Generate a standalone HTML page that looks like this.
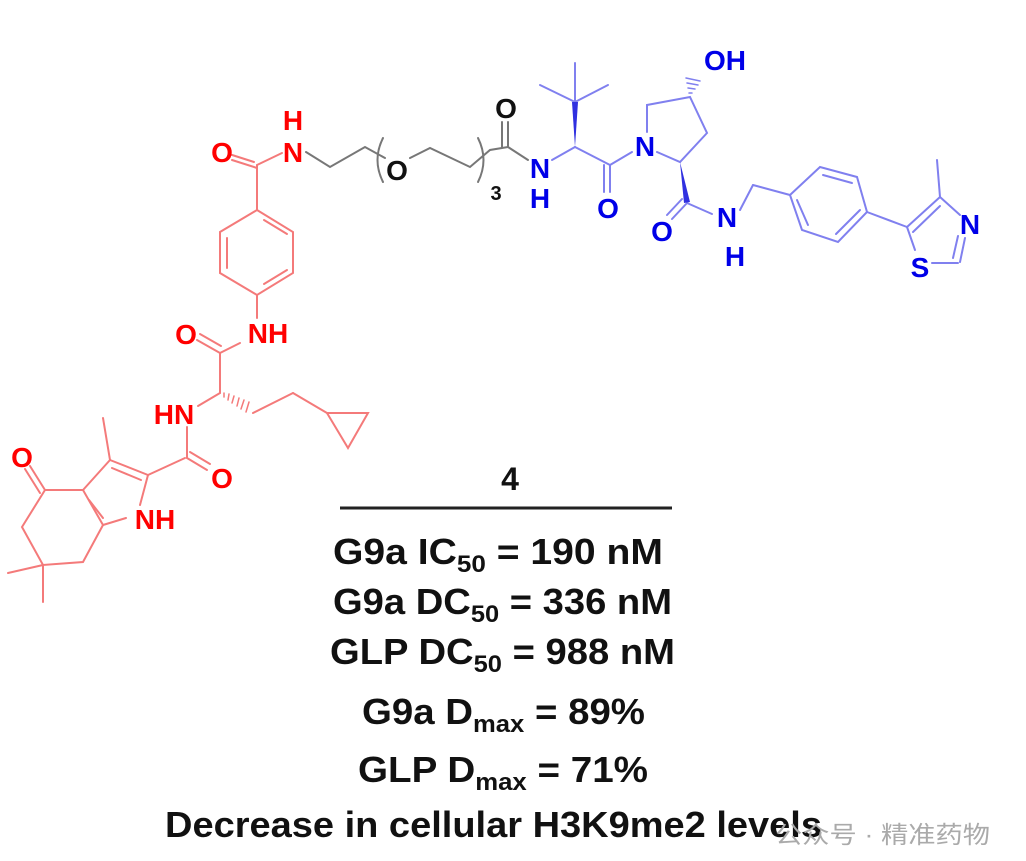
<!DOCTYPE html>
<html><head><meta charset="utf-8"><style>
html,body{margin:0;padding:0;background:#fff;}
svg{display:block;}
text{font-family:"Liberation Sans",Arial,sans-serif;font-weight:bold;}
</style></head><body>
<svg width="1026" height="861" viewBox="0 0 1026 861" xmlns="http://www.w3.org/2000/svg">
<g stroke-width="2" fill="none" stroke-linecap="round">
<g stroke="#f47a7a">
<line x1="232" y1="160" x2="257" y2="168"/><line x1="229" y1="154" x2="254" y2="162"/>
<line x1="257" y1="165" x2="282" y2="153"/>
<line x1="257" y1="165" x2="257" y2="210"/>
<polygon points="257,210 293,232 293,273 257,295 220,273 220,232"/>
<line x1="264" y1="220" x2="287" y2="234"/><line x1="287" y1="270" x2="264" y2="284"/><line x1="227" y1="238" x2="227" y2="268"/>
<line x1="257" y1="295" x2="257" y2="318"/>
<line x1="240" y1="343" x2="220" y2="353"/>
<line x1="197" y1="340" x2="220" y2="353"/><line x1="200" y1="334" x2="221" y2="346"/>
<line x1="220" y1="353" x2="220" y2="393"/>
<line x1="220" y1="393" x2="198" y2="406"/>
<line x1="253" y1="413" x2="293" y2="393"/><line x1="293" y1="393" x2="327" y2="413"/>
<polygon points="327,413 368,413 348,448"/>
<line x1="187" y1="427" x2="187" y2="458"/>
<line x1="187" y1="458" x2="207" y2="470"/><line x1="190" y1="452" x2="210" y2="464"/>
<line x1="185" y1="458" x2="148" y2="475"/>
<line x1="148" y1="475" x2="110" y2="460"/><line x1="141" y1="480" x2="112" y2="468"/>
<line x1="110" y1="460" x2="103" y2="418"/>
<line x1="110" y1="460" x2="83" y2="490"/>
<line x1="148" y1="475" x2="140" y2="505"/>
<line x1="126" y1="518" x2="103" y2="525"/>
<line x1="83" y1="490" x2="103" y2="525"/><line x1="89" y1="500" x2="103" y2="518"/>
<polyline points="83,490 45,490 22,527 43,565 83,562 103,525"/>
<line x1="45" y1="490" x2="30" y2="466"/><line x1="40" y1="493" x2="25" y2="469"/>
<line x1="43" y1="565" x2="8" y2="573"/><line x1="43" y1="565" x2="43" y2="602"/>
</g>
<g stroke="#f47a7a" stroke-width="1.5">
<line x1="224" y1="393" x2="224" y2="397"/><line x1="229" y1="394" x2="228" y2="400"/><line x1="234" y1="396" x2="232" y2="403"/><line x1="239" y1="398" x2="237" y2="406"/><line x1="244" y1="400" x2="241" y2="409"/><line x1="249" y1="402" x2="246" y2="412"/>
</g>
<g stroke="#777">
<polyline points="306,152 330,167 365,147 385,158"/>
<polyline points="410,158 430,148 470,167 490,150 508,147"/>
<path d="M383,138 Q372,160 383,182"/>
<path d="M478,138 Q489,160 478,182"/>
<line x1="508" y1="147" x2="508" y2="122"/><line x1="502" y1="147" x2="502" y2="122"/>
<line x1="508" y1="147" x2="528" y2="160"/>
</g>
<g stroke="#8080ef">
<line x1="552" y1="160" x2="575" y2="147"/>
<line x1="575" y1="102" x2="540" y2="85"/><line x1="575" y1="102" x2="575" y2="63"/><line x1="575" y1="102" x2="608" y2="85"/>
<line x1="575" y1="147" x2="610" y2="165"/>
<line x1="610" y1="165" x2="610" y2="192"/><line x1="604" y1="165" x2="604" y2="192"/>
<line x1="610" y1="165" x2="632" y2="152"/>
<polyline points="647,132 647,105 690,97 707,133 680,162 657,152"/>
<line x1="687" y1="203" x2="672" y2="219"/><line x1="682" y1="199" x2="667" y2="215"/>
<line x1="687" y1="203" x2="712" y2="214"/>
<line x1="740" y1="210" x2="753" y2="185"/><line x1="753" y1="185" x2="790" y2="195"/>
<polygon points="790,195 820,167 857,177 867,212 838,242 802,230"/>
<line x1="823" y1="175" x2="852" y2="183"/><line x1="860" y1="210" x2="836" y2="234"/><line x1="797" y1="200" x2="808" y2="225"/>
<line x1="867" y1="212" x2="907" y2="227"/>
<line x1="907" y1="227" x2="940" y2="197"/><line x1="913" y1="232" x2="940" y2="206"/>
<line x1="940" y1="197" x2="937" y2="160"/>
<line x1="940" y1="197" x2="960" y2="215"/>
<line x1="965" y1="238" x2="960" y2="262"/><line x1="958" y1="236" x2="953" y2="258"/>
<line x1="958" y1="263" x2="932" y2="263"/>
<line x1="907" y1="227" x2="915" y2="250"/>
</g>
<g stroke="#8080ef" stroke-width="1.5">
<line x1="689" y1="93" x2="692" y2="93"/><line x1="688" y1="88" x2="695" y2="89"/><line x1="687" y1="83" x2="698" y2="85"/><line x1="686" y1="78" x2="700" y2="81"/>
</g>
<polygon points="575,147 572,102 578,102" fill="#3030e0" stroke="none"/>
<polygon points="680,162 684,203 690,202" fill="#3030e0" stroke="none"/>
</g>
<g fill="#f00" font-size="28" text-anchor="middle">
<text x="222" y="162">O</text>
<text x="293" y="162">N</text><text x="293" y="130">H</text>
<text x="268" y="343">NH</text>
<text x="186" y="344">O</text>
<text x="174" y="424">HN</text>
<text x="222" y="488">O</text>
<text x="22" y="467">O</text>
<text x="155" y="529">NH</text>
</g>
<g fill="#111" font-size="28" text-anchor="middle">
<text x="397" y="180">O</text>
<text x="506" y="118">O</text>
</g>
<text x="496" y="200" fill="#111" font-size="20" text-anchor="middle">3</text>
<g fill="#0000e8" font-size="28" text-anchor="middle">
<text x="540" y="178">N</text><text x="540" y="208">H</text>
<text x="608" y="218">O</text>
<text x="645" y="156">N</text>
<text x="725" y="70">OH</text>
<text x="662" y="241">O</text>
<text x="727" y="227">N</text><text x="735" y="266">H</text>
<text x="970" y="234">N</text>
<text x="920" y="277">S</text>
</g>
<text x="510" y="490" font-size="32" text-anchor="middle" fill="#111">4</text>
<line x1="340" y1="508" x2="672" y2="508" stroke="#222" stroke-width="3"/>
<g fill="#111" font-size="36">
<text x="333" y="564" textLength="330" lengthAdjust="spacingAndGlyphs">G9a IC<tspan font-size="24" dy="8">50</tspan><tspan dy="-8"> = 190 nM</tspan></text>
<text x="333" y="614" textLength="339" lengthAdjust="spacingAndGlyphs">G9a DC<tspan font-size="24" dy="8">50</tspan><tspan dy="-8"> = 336 nM</tspan></text>
<text x="330" y="664" textLength="345" lengthAdjust="spacingAndGlyphs">GLP DC<tspan font-size="24" dy="8">50</tspan><tspan dy="-8"> = 988 nM</tspan></text>
<text x="362" y="724" textLength="283" lengthAdjust="spacingAndGlyphs">G9a D<tspan font-size="24" dy="8">max</tspan><tspan dy="-8"> = 89%</tspan></text>
<text x="358" y="782" textLength="290" lengthAdjust="spacingAndGlyphs">GLP D<tspan font-size="24" dy="8">max</tspan><tspan dy="-8"> = 71%</tspan></text>
<text x="165" y="837" textLength="657" lengthAdjust="spacingAndGlyphs">Decrease in cellular H3K9me2 levels</text>
</g>
<text x="775" y="843" font-size="24" fill="#aaa" style="font-weight:normal;font-family:'Liberation Sans','Noto Sans CJK SC',sans-serif" textLength="215" lengthAdjust="spacingAndGlyphs">公众号 · 精准药物</text>
</svg>
</body></html>
